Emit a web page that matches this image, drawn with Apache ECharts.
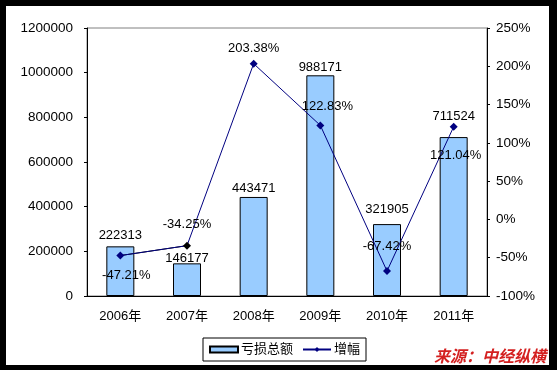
<!DOCTYPE html>
<html><head><meta charset="utf-8">
<script src="https://cdn.jsdelivr.net/npm/echarts@6/dist/echarts.min.js"></script>
<style>
html,body{margin:0;padding:0;background:#000;}
#wrap{position:relative;width:557px;height:370px;background:#000;overflow:hidden;}
#paper{position:absolute;left:6px;top:6px;width:543px;height:359px;background:#fff;}
#chart{position:absolute;left:0;top:0;width:557px;height:370px;}
</style></head>
<body>
<div id="wrap"><div id="paper"></div><div id="chart"></div></div>
<script>
const categories = ['2006年','2007年','2008年','2009年','2010年','2011年'];
const lossTotal = [222313, 146177, 443471, 988171, 321905, 711524];
const growthPct = [-47.21, -34.25, 203.38, 122.83, -67.42, 121.04];
const seriesNames = ['亏损总额','增幅'];
const sourceText = '来源：中经纵横';

// label placement (style only)
const barLabelDist = [4, -2, 2, 1, 8, 14];
const growthLabelPlace = [['bottom',9,6],['top',11,0],['top',5,0],['top',8,7],['top',14,0],['bottom',18,2]];

const numFont = 'Liberation Sans, Arial, sans-serif';
const cjkFont = 'Liberation Sans, Noto Sans CJK SC, sans-serif';

const chart = echarts.init(document.getElementById('chart'), null, {renderer:'canvas'});
chart.setOption({
  backgroundColor: 'transparent',
  animation: false,
  grid: {left: 87, top: 28, width: 400, height: 268, show: true, borderColor: '#808080', borderWidth: 1, backgroundColor: 'transparent'},
  legend: {
    left: 203, top: 338,
    padding: [5, 6],
    borderColor: '#000', borderWidth: 1,
    itemWidth: 28, itemHeight: 6, itemGap: 9,
    textStyle: {fontSize: 13, color: '#000', fontFamily: cjkFont, padding: [0,0,0,-2]},
    data: [{name: seriesNames[0], icon: 'rect'}, {name: seriesNames[1]}]
  },
  xAxis: {
    type: 'category', data: categories,
    axisLine: {lineStyle: {color: '#000', width: 1}},
    axisTick: {inside: true, length: 4, lineStyle: {color: '#000'}},
    axisLabel: {color: '#000', fontSize: 13, fontFamily: cjkFont, margin: 14}
  },
  yAxis: [{
    type: 'value', min: 0, max: 1200000, interval: 200000,
    axisLine: {show: true, lineStyle: {color: '#000'}},
    axisTick: {show: true, length: 3, lineStyle: {color: '#000'}},
    splitLine: {show: false},
    axisLabel: {color: '#000', fontSize: 13.5, fontFamily: numFont, margin: 14, formatter: v => String(v)}
  }, {
    type: 'value', min: -100, max: 250, interval: 50, position: 'right',
    axisLine: {show: true, lineStyle: {color: '#000'}},
    axisTick: {show: true, length: 3, lineStyle: {color: '#000'}},
    splitLine: {show: false},
    axisLabel: {color: '#000', fontSize: 13.5, fontFamily: numFont, margin: 9, formatter: v => v + '%'}
  }],
  series: [{
    name: seriesNames[0], type: 'bar', barWidth: 28,
    data: lossTotal.map((v, i) => ({value: v, label: {distance: barLabelDist[i]}})),
    itemStyle: {color: '#99CCFF', borderColor: '#000', borderWidth: 1},
    label: {show: true, position: 'top', color: '#000', fontSize: 13, fontFamily: numFont}
  }, {
    name: seriesNames[1], type: 'line', yAxisIndex: 1,
    data: growthPct.map((v, i) => ({
      value: v,
      itemStyle: i === 1 ? {color: '#000'} : undefined,
      label: {position: growthLabelPlace[i][0], distance: growthLabelPlace[i][1], offset: [growthLabelPlace[i][2], 0]}
    })),
    symbol: 'diamond', symbolSize: 8,
    itemStyle: {color: '#000080'},
    lineStyle: {color: '#000080', width: 1},
    label: {show: true, color: '#000', fontSize: 13, fontFamily: numFont, formatter: p => p.value.toFixed(2) + '%'},
    z: 5
  }, {
    name: 'firstSegment', type: 'line', yAxisIndex: 1,
    data: growthPct.map((v, i) => (i < 2 ? v : '-')),
    symbol: 'none', silent: true,
    lineStyle: {color: '#000', width: 1},
    z: 4
  }],
  graphic: [{
    type: 'text', left: 434, top: 348,
    style: {text: sourceText, fill: '#D42020', font: 'italic bold 16px "Noto Sans CJK SC", sans-serif'}
  }]
});
</script>
</body></html>
